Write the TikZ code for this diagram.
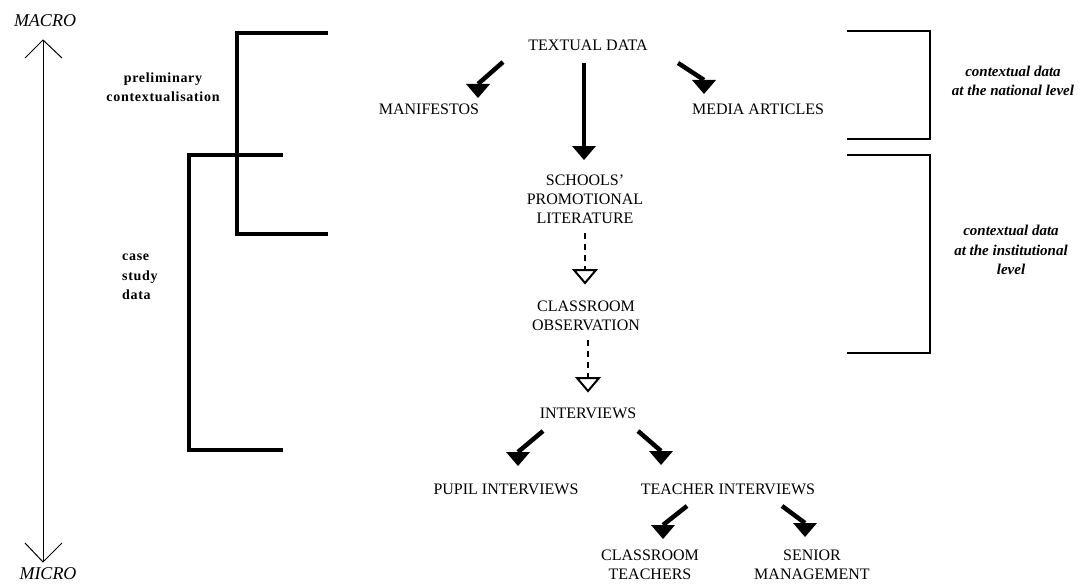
\documentclass[tikz,border=0pt]{standalone}
\usepackage{fontspec}
\setmainfont{Liberation Serif}
\newfontfamily\lblfont[LetterSpace=5]{Liberation Serif}
\usetikzlibrary{calc}
\newcommand\fhead[1]{\fill ($(#1)+(-12,0)$) -- ($(#1)+(12,0)$) -- ($(#1)+(0,14)$) -- cycle;}
\newcommand\ohead[1]{\draw[line width=2pt,line join=miter,fill=white] ($(#1)+(-11,0)$) -- ($(#1)+(11,0)$) -- ($(#1)+(0,13)$) -- cycle;}
\begin{document}
\begin{tikzpicture}[x=1pt,y=-1pt,
  lbl/.style={font=\fontsize{16}{19}\selectfont, align=center, inner sep=0pt},
  side/.style={font=\lblfont\bfseries\fontsize{14}{19.5}\selectfont, inner sep=0pt},
  ctx/.style={font=\bfseries\itshape\fontsize{15}{19.5}\selectfont, align=center, inner sep=0pt},
  scl/.style={font=\itshape\fontsize{18}{20}\selectfont, inner sep=0pt},
  tline/.style={line width=4.5pt},
  dline/.style={line width=2pt, dash pattern=on 6pt off 5pt},
  brL/.style={line width=4pt, line join=miter},
  brR/.style={line width=1.8pt, line join=miter},
]
\useasboundingbox (0,0) rectangle (1083,583);

% scale arrow
\node[scl] (macro) at (45,21) {MACRO};
\node[scl] (micro) at (48,574) {MICRO};
\coordinate (sTop) at (43,40);
\coordinate (sBot) at (43,562);
\draw[line width=1pt] (sTop) -- (sBot);
\draw[line width=1pt] (25,58) -- (sTop) -- (62,58);
\draw[line width=1pt] (25,543) -- (sBot) -- (62,543);

% left brackets
\draw[brL] (328,33) -- (237,33) -- (237,234) -- (328,234);
\draw[brL] (283,155) -- (189,155) -- (189,450) -- (283,450);
\node[side, align=center] (prelim) at (163,87) {preliminary\\contextualisation};
\node[side, align=left, anchor=west] (case) at (122,277) {case\\study\\data};

% right brackets
\draw[brR] (847,31) -- (930,31) -- (930,139) -- (847,139);
\draw[brR] (847,155) -- (930,155) -- (930,353) -- (847,353);
\node[ctx] (nat) at (1013,81) {contextual data\\at the national level};
\node[ctx] (inst) at (1011,250) {contextual data\\at the institutional\\level};

% main nodes
\node[lbl] (td) at (588,45) {TEXTUAL DATA};
\node[lbl] (man) at (429,109) {MANIFESTOS};
\node[lbl] (med) at (758,109) {MEDIA ARTICLES};
\node[lbl] (spl) at (585,199) {SCHOOLS'\\PROMOTIONAL\\LITERATURE};
\node[lbl] (co) at (586,316) {CLASSROOM\\OBSERVATION};
\node[lbl] (int) at (588,413) {INTERVIEWS};
\node[lbl] (pupil) at (506,489) {PUPIL INTERVIEWS};
\node[lbl] (teach) at (728,489) {TEACHER INTERVIEWS};
\node[lbl] (ct) at (650,565) {CLASSROOM\\TEACHERS};
\node[lbl] (sm) at (812,565) {SENIOR\\MANAGEMENT};

% connector coordinates
\coordinate (a1s) at (503,62);  \coordinate (a1e) at (478,84);
\coordinate (a2s) at (678,63);  \coordinate (a2e) at (704,80);
\coordinate (a3s) at (584,63);  \coordinate (a3e) at (584,146);
\coordinate (a4s) at (585,233); \coordinate (a4e) at (585,270);
\coordinate (a5s) at (588,340); \coordinate (a5e) at (588,378);
\coordinate (a6s) at (543,431); \coordinate (a6e) at (518,452);
\coordinate (a7s) at (638,431); \coordinate (a7e) at (661,451);
\coordinate (a8s) at (687,506); \coordinate (a8e) at (663,525);
\coordinate (a9s) at (782,506); \coordinate (a9e) at (805,523);

\draw[tline] (a1s) -- (a1e); \fhead{a1e}
\draw[tline] (a2s) -- (a2e); \fhead{a2e}
\draw[tline] (a3s) -- (a3e); \fhead{a3e}
\draw[dline] (a4s) -- (a4e); \ohead{a4e}
\draw[dline] (a5s) -- (a5e); \ohead{a5e}
\draw[tline] (a6s) -- (a6e); \fhead{a6e}
\draw[tline] (a7s) -- (a7e); \fhead{a7e}
\draw[tline] (a8s) -- (a8e); \fhead{a8e}
\draw[tline] (a9s) -- (a9e); \fhead{a9e}
\end{tikzpicture}
\end{document}
